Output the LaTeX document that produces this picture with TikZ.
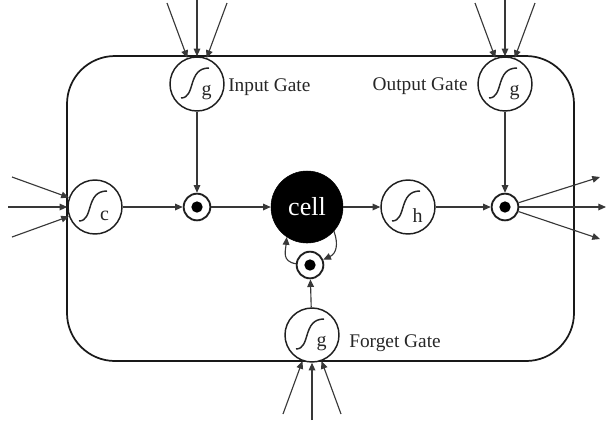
\documentclass[tikz,border=0pt]{standalone}
\usepackage{fontspec}
\setmainfont{Liberation Serif}
\usetikzlibrary{arrows.meta}

\tikzset{
  wire/.style={draw=black!78, line width=0.85pt, -{Triangle[length=5.8pt,width=5pt]}},
  frame/.style={draw=black!90, line width=1.3pt, rounded corners=36pt},
  act/.style={circle, draw=black!88, fill=white, line width=1.1pt, minimum size=40.5pt, inner sep=0pt},
  prod/.style={circle, draw=black!88, fill=white, line width=1.4pt, minimum size=20pt, inner sep=0pt},
  dot/.style={circle, fill=black, minimum size=8.5pt, inner sep=0pt},
  cellnode/.style={circle, fill=black, draw=black, minimum size=54pt, inner sep=0pt,
    text=white, font=\fontsize{19.5}{22}\selectfont},
  gatelabel/.style={font=\fontsize{14.5}{17}\selectfont, text=black!85, inner sep=0pt},
  sublabel/.style={font=\fontsize{15}{17}\selectfont, text=black!85, inner sep=0pt},
  sig/.pic={
    \draw[line width=1.1pt, black!85] (-16,14) .. controls (-1,14) and (-10,-16) .. (12,-16);
    \node[sublabel] (-lab) at (9.5,8.5) {#1};
  }
}

\begin{document}
\begin{tikzpicture}[x=0.75pt,y=-0.75pt]
\useasboundingbox (0,0) rectangle (606,426);

% outer block
\draw[frame] (67,56) rectangle (574,361);

% squashing units
\node[act] (cin) at (95,207) {};
\node[act] (ig) at (197,84) {};
\node[act] (og) at (505,84) {};
\node[act] (hout) at (408,207) {};
\node[act] (fg) at (312,335) {};
\pic (cinS) at (cin) {sig=c};
\pic (igS) at (ig) {sig=g};
\pic (ogS) at (og) {sig=g};
\pic (houtS) at (hout) {sig=h};
\pic (fgS) at (fg) {sig=g};

% multiplicative units
\node[prod] (p1) at (197,207) {};
\node[dot] (p1d) at (p1) {};
\node[prod] (p2) at (505,207) {};
\node[dot] (p2d) at (p2) {};
\node[prod] (p3) at (310,265) {};
\node[dot] (p3d) at (p3) {};

% memory cell
\node[cellnode] (cell) at (307,207) {cell};

% gate labels
\node[gatelabel, anchor=base west] (igl) at (228,91) {Input Gate};
\node[gatelabel, anchor=base east] (ogl) at (468,90) {Output Gate};
\node[gatelabel, anchor=base west] (fgl) at (349,347) {Forget Gate};

% external inputs
\coordinate (igA) at (167,3);
\coordinate (igB) at (197,0);
\coordinate (igC) at (227,3);
\coordinate (ogA) at (475,3);
\coordinate (ogB) at (505,0);
\coordinate (ogC) at (535,3);
\coordinate (cinA) at (12,177);
\coordinate (cinB) at (8,207);
\coordinate (cinC) at (12,237);
\coordinate (fgA) at (283,414);
\coordinate (fgB) at (312,420);
\coordinate (fgC) at (341,414);
\foreach \s in {igA,igB,igC} \draw[wire] (\s) -- (ig);
\foreach \s in {ogA,ogB,ogC} \draw[wire] (\s) -- (og);
\foreach \s in {cinA,cinB,cinC} \draw[wire] (\s) -- (cin);
\foreach \s in {fgA,fgB,fgC} \draw[wire] (\s) -- (fg);

% outputs
\coordinate (outA) at (600,177);
\coordinate (outB) at (606,207);
\coordinate (outC) at (600,239);
\foreach \s in {outA,outB,outC} \draw[wire] (p2) -- (\s);

% internal flow
\draw[wire] (cin) -- (p1);
\draw[wire] (ig) -- (p1);
\draw[wire] (p1) -- (cell);
\draw[wire] (cell) -- (hout);
\draw[wire] (hout) -- (p2);
\draw[wire] (og) -- (p2);
\draw[wire] (fg) -- (p3);

% recurrent loop through the forget product
\draw[wire] (p3.175) to[out=170, in=265, looseness=1.3] (cell.236);
\draw[wire] (cell.318) to[out=-70, in=25, looseness=1.2] (p3.22);
\end{tikzpicture}
\end{document}
